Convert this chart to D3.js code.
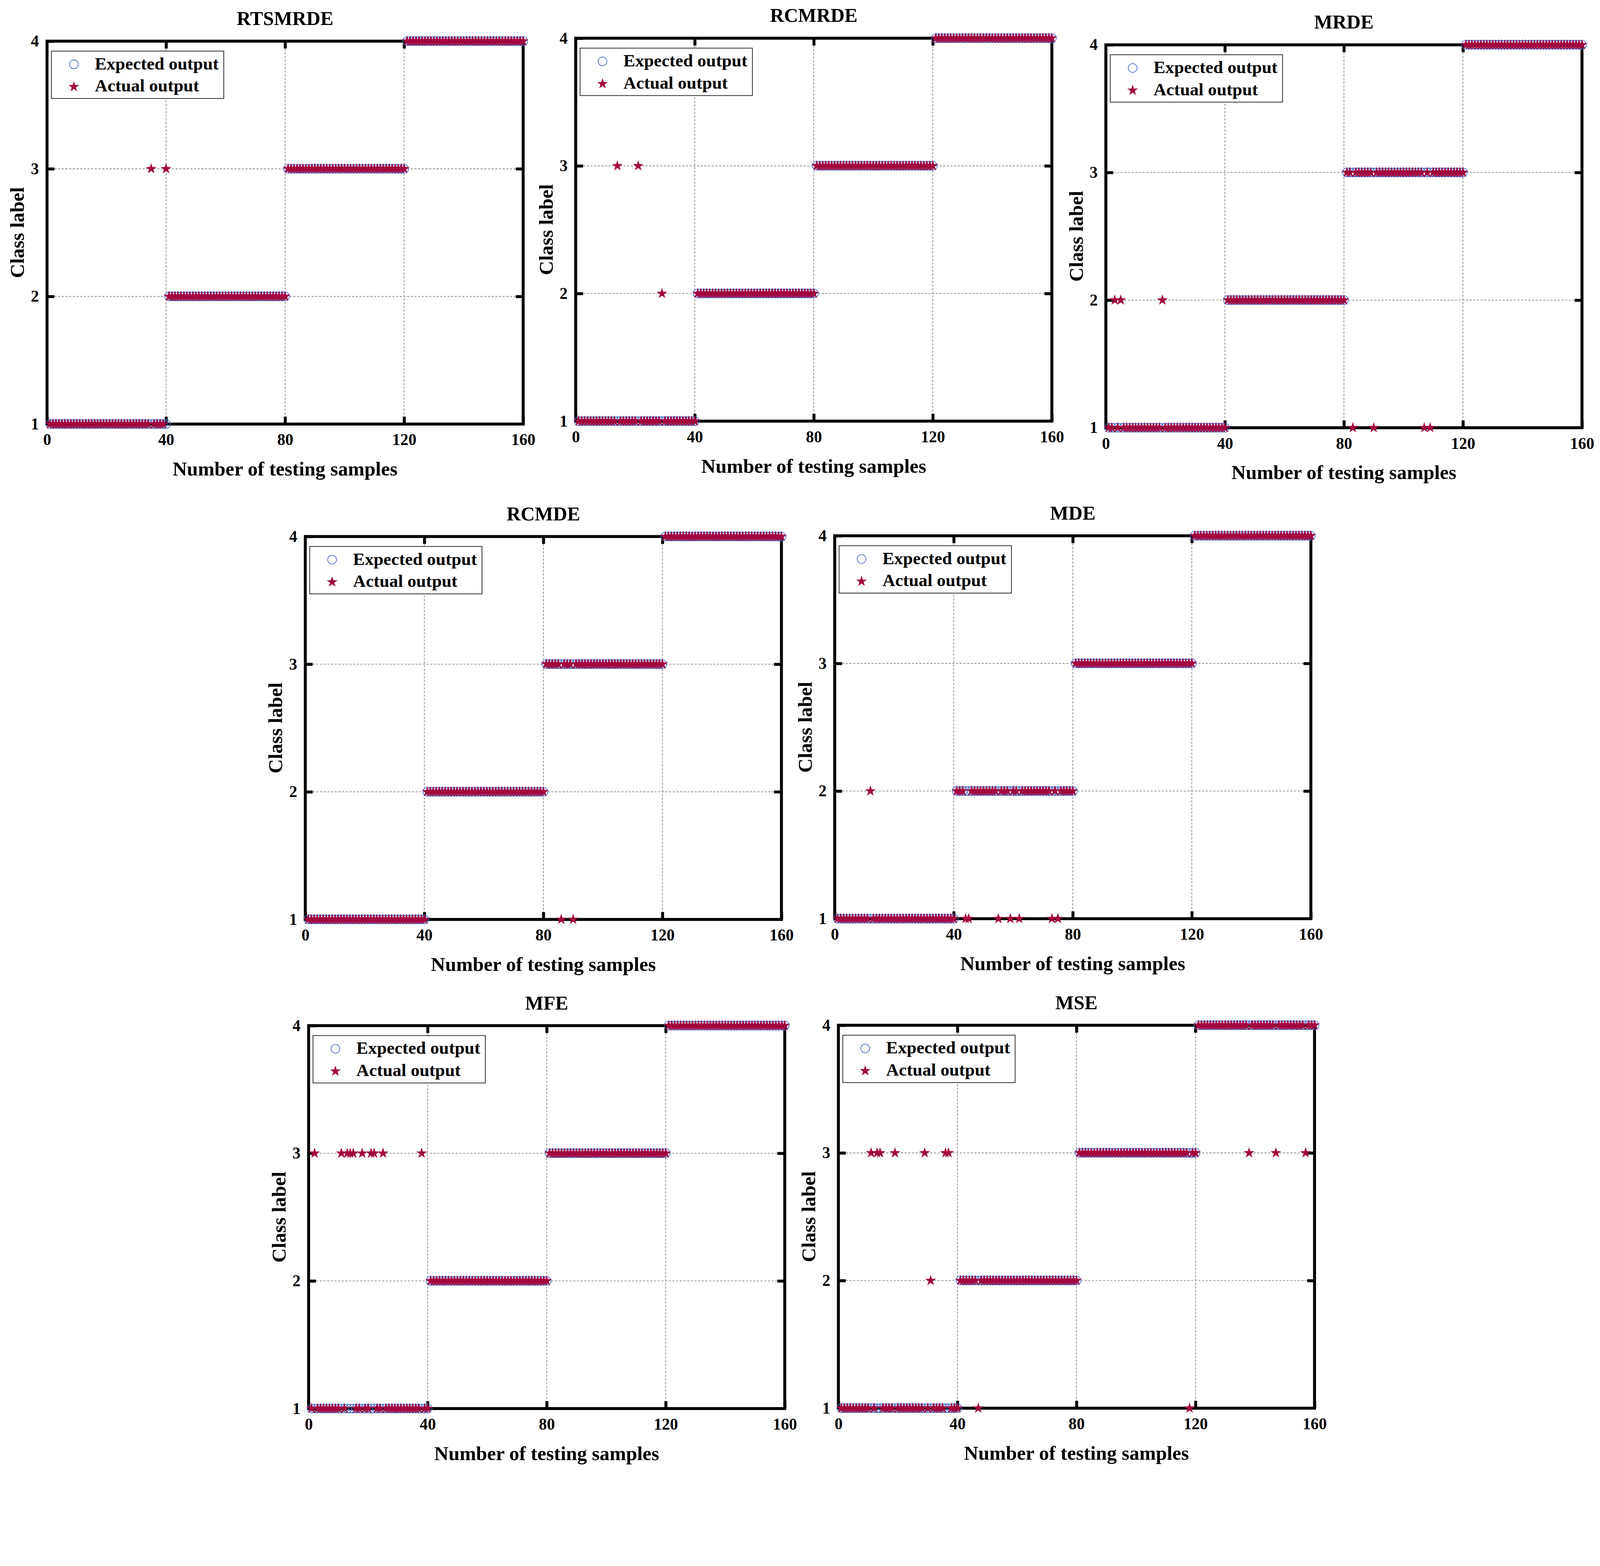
<!DOCTYPE html>
<html>
<head>
<meta charset="utf-8">
<script src="https://cdn.jsdelivr.net/npm/d3@7/dist/d3.min.js"></script>
<style>
  html, body { margin: 0; padding: 0; background: #ffffff; overflow: hidden; }
  svg { display: block; width: 100vw; height: calc(100vw * 4008 / 4355); }
</style>
</head>
<body>
<svg id="chart" viewBox="0 0 4355 4008" preserveAspectRatio="xMinYMin meet"></svg>
<script>
// ---------------- DATA ----------------
const titles = ["RTSMRDE", "RCMRDE", "MRDE", "RCMDE", "MDE", "MFE", "MSE"];
const xTicks = [0, 40, 80, 120, 160];
const yTicks = [1, 2, 3, 4];
const xGrid = [40, 80, 120];
const yGrid = [2, 3];
const legendLabels = ["Expected output", "Actual output"];
const xAxisTitle = "Number of testing samples";
const yAxisTitle = "Class label";

// expected output: runs of [class label, number of samples]
const expectedRuns = [[1, 40], [2, 40], [3, 40], [4, 40]];

// misclassified samples (sample index) and the label actually output
const errSamplesRTSMRDE = [35, 40];
const errLabelsRTSMRDE  = [3, 3];
const errSamplesRCMRDE  = [14, 21, 29];
const errLabelsRCMRDE   = [3, 3, 2];
const errSamplesMRDE    = [3, 5, 19, 83, 90, 107, 109];
const errLabelsMRDE     = [2, 2, 2, 1, 1, 1, 1];
const errSamplesRCMDE   = [86, 90];
const errLabelsRCMDE    = [1, 1];
const errSamplesMDE     = [12, 44, 45, 55, 59, 62, 73, 75];
const errLabelsMDE      = [2, 1, 1, 1, 1, 1, 1, 1];
const errSamplesMFE     = [2, 11, 13, 14, 15, 18, 21, 22, 25, 38];
const errLabelsMFE      = [3, 3, 3, 3, 3, 3, 3, 3, 3, 3];
const errSamplesMSE     = [11, 13, 14, 19, 29, 31, 36, 37, 47, 118, 138, 147, 157];
const errLabelsMSE      = [3, 3, 3, 3, 3, 2, 3, 3, 1, 1, 3, 3, 3];

const errSamples = [errSamplesRTSMRDE, errSamplesRCMRDE, errSamplesMRDE, errSamplesRCMDE, errSamplesMDE, errSamplesMFE, errSamplesMSE];
const errLabels  = [errLabelsRTSMRDE, errLabelsRCMRDE, errLabelsMRDE, errLabelsRCMDE, errLabelsMDE, errLabelsMFE, errLabelsMSE];

// ---------------- LAYOUT ----------------
const frameLeft = [128, 1567, 3010, 831, 2272, 840, 2282];
const frameTop  = [112, 104, 122, 1460, 1458, 2791, 2790];
const W = 1296, H = 1042;

const FONT = "'Liberation Serif', 'Times New Roman', Times, serif";
const circleColor = "#4a6cc8";
const starColor = "#a2053f";

const svg = d3.select("#chart");
svg.append("rect").attr("width", 4355).attr("height", 4008).attr("fill", "#ffffff");

// build expected series
const expected = [];
expectedRuns.forEach(([c, n]) => { for (let i = 0; i < n; i++) expected.push(c); });

const starR = 15.5;
const starSym = d3.symbol().type(d3.symbolStar).size(starR * starR / 0.8908130915292852);

titles.forEach((title, p) => {
  const g = svg.append("g").attr("transform", `translate(${frameLeft[p]},${frameTop[p]})`);
  const x = d3.scaleLinear().domain([0, 160]).range([0, W]);
  const y = d3.scaleLinear().domain([1, 4]).range([H, 0]);

  const pts = expected.map((c, i) => ({ s: i + 1, e: c, a: c }));
  errSamples[p].forEach((s, k) => { pts[s - 1].a = errLabels[p][k]; });

  // grid
  g.append("g").selectAll("line").data(xGrid).join("line")
    .attr("x1", d => x(d)).attr("x2", d => x(d)).attr("y1", 0).attr("y2", H)
    .attr("stroke", "#8c8c8c").attr("stroke-width", 2).attr("stroke-dasharray", "6,4");
  g.append("g").selectAll("line").data(yGrid).join("line")
    .attr("x1", 0).attr("x2", W).attr("y1", d => y(d)).attr("y2", d => y(d))
    .attr("stroke", "#8c8c8c").attr("stroke-width", 2).attr("stroke-dasharray", "6,4");

  // frame
  g.append("rect").attr("x", 0).attr("y", 0).attr("width", W).attr("height", H)
    .attr("fill", "none").attr("stroke", "#000").attr("stroke-width", 8);

  const styleAxis = sel => {
    sel.select(".domain").remove();
    sel.attr("font-family", FONT).attr("font-size", 44).attr("font-weight", "bold");
    sel.selectAll(".tick line").attr("stroke", "#000").attr("stroke-width", 8);
    sel.selectAll(".tick text").attr("fill", "#000");
  };
  const fmt = d3.format("d");

  g.append("g").attr("transform", `translate(0,${H})`)
    .call(d3.axisBottom(x).tickValues(xTicks).tickFormat(fmt).tickSize(-20).tickSizeOuter(0).tickPadding(26))
    .call(styleAxis);
  g.append("g")
    .call(d3.axisTop(x).tickValues(xGrid).tickSize(-20).tickSizeOuter(0).tickFormat(""))
    .call(styleAxis);
  g.append("g")
    .call(d3.axisLeft(y).tickValues(yTicks).tickFormat(fmt).tickSize(-20).tickSizeOuter(0).tickPadding(22))
    .call(styleAxis);
  g.append("g").attr("transform", `translate(${W},0)`)
    .call(d3.axisRight(y).tickValues(yGrid).tickSize(-20).tickSizeOuter(0).tickFormat(""))
    .call(styleAxis);

  // titles
  g.append("text").attr("x", W / 2).attr("y", -44).attr("text-anchor", "middle")
    .attr("font-family", FONT).attr("font-size", 53).attr("font-weight", "bold").text(title);
  g.append("text").attr("x", W / 2).attr("y", H + 140).attr("text-anchor", "middle")
    .attr("font-family", FONT).attr("font-size", 54).attr("font-weight", "bold").text(xAxisTitle);
  g.append("text").attr("transform", `translate(-63,${H / 2}) rotate(-90)`).attr("text-anchor", "middle")
    .attr("font-family", FONT).attr("font-size", 54).attr("font-weight", "bold").text(yAxisTitle);

  // legend
  const lg = g.append("g").attr("transform", "translate(12,27)");
  lg.append("rect").attr("width", 469).attr("height", 129)
    .attr("fill", "#fff").attr("stroke", "#222").attr("stroke-width", 2);
  lg.append("circle").attr("cx", 61).attr("cy", 36).attr("r", 12)
    .attr("fill", "none").attr("stroke", circleColor).attr("stroke-width", 1.8);
  lg.append("path").attr("d", starSym()).attr("transform", "translate(61,97)").attr("fill", starColor);
  lg.selectAll("text").data(legendLabels).join("text")
    .attr("x", 118).attr("y", (d, i) => 50 + i * 60)
    .attr("font-family", FONT).attr("font-size", 48).attr("font-weight", "bold").attr("fill", "#000")
    .text(d => d);

  // marks
  g.append("g").selectAll("circle").data(pts).join("circle")
    .attr("cx", d => x(d.s)).attr("cy", d => y(d.e)).attr("r", 12)
    .attr("fill", "none").attr("stroke", circleColor).attr("stroke-width", 1.8);
  g.append("g").selectAll("path").data(pts).join("path")
    .attr("d", starSym())
    .attr("transform", d => `translate(${x(d.s)},${y(d.a)})`)
    .attr("fill", starColor);
});
</script>
</body>
</html>
